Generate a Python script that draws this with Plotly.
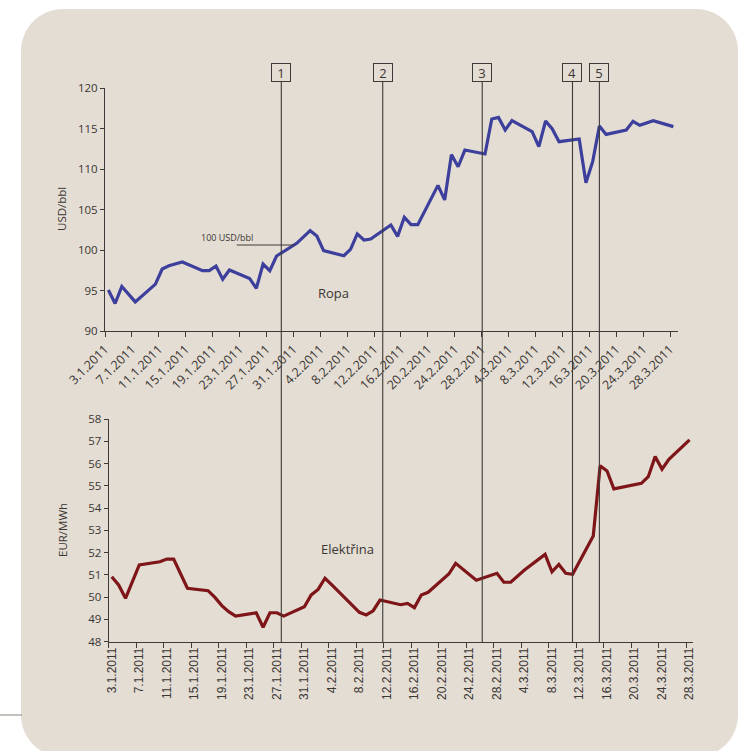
import pandas as pd
import plotly.graph_objects as go

# ---------------- DATA ----------------
oil_dates = ["2011-01-03", "2011-01-04", "2011-01-05", "2011-01-07", "2011-01-10", "2011-01-11",
             "2011-01-12", "2011-01-14", "2011-01-17", "2011-01-18", "2011-01-19", "2011-01-20",
             "2011-01-21", "2011-01-24", "2011-01-25", "2011-01-26", "2011-01-27", "2011-01-28",
             "2011-01-31", "2011-02-02", "2011-02-03", "2011-02-04", "2011-02-07", "2011-02-08",
             "2011-02-09", "2011-02-10", "2011-02-11", "2011-02-14", "2011-02-15", "2011-02-16",
             "2011-02-17", "2011-02-18", "2011-02-21", "2011-02-22", "2011-02-23", "2011-02-24",
             "2011-02-25", "2011-02-28", "2011-03-01", "2011-03-02", "2011-03-03", "2011-03-04",
             "2011-03-07", "2011-03-08", "2011-03-09", "2011-03-10", "2011-03-11", "2011-03-14",
             "2011-03-15", "2011-03-16", "2011-03-17", "2011-03-18", "2011-03-21", "2011-03-22",
             "2011-03-23", "2011-03-25", "2011-03-28"]
oil_usd = [95.07, 93.4, 95.5, 93.6, 95.8, 97.66,
           98.07, 98.53, 97.46, 97.46, 98.03, 96.39,
           97.54, 96.5, 95.27, 98.28, 97.46, 99.27,
           100.84, 102.4, 101.74, 99.93, 99.3, 100.1,
           102.0, 101.25, 101.37, 103.1, 101.7, 104.05,
           103.15, 103.15, 108.0, 106.2, 111.8, 110.3,
           112.37, 111.88, 116.2, 116.4, 114.85, 116.0,
           114.64, 112.8, 115.96, 114.97, 113.4, 113.73,
           108.33, 110.93, 115.34, 114.3, 114.85, 115.92,
           115.43, 116.0, 115.26]

power_dates = ["2011-01-03", "2011-01-04", "2011-01-05", "2011-01-07", "2011-01-10", "2011-01-11",
               "2011-01-12", "2011-01-14", "2011-01-17", "2011-01-18", "2011-01-19", "2011-01-20",
               "2011-01-21", "2011-01-24", "2011-01-25", "2011-01-26", "2011-01-27", "2011-01-28",
               "2011-01-31", "2011-02-01", "2011-02-02", "2011-02-03", "2011-02-04", "2011-02-08",
               "2011-02-09", "2011-02-10", "2011-02-11", "2011-02-14", "2011-02-15", "2011-02-16",
               "2011-02-17", "2011-02-18", "2011-02-21", "2011-02-22", "2011-02-25", "2011-02-28",
               "2011-03-01", "2011-03-02", "2011-03-04", "2011-03-07", "2011-03-08", "2011-03-09",
               "2011-03-10", "2011-03-11", "2011-03-14", "2011-03-15", "2011-03-16", "2011-03-17",
               "2011-03-21", "2011-03-22", "2011-03-23", "2011-03-24", "2011-03-25", "2011-03-28"]
power_eur = [50.92, 50.55, 49.95, 51.45, 51.59, 51.71,
             51.71, 50.4, 50.29, 49.99, 49.62, 49.35,
             49.15, 49.3, 48.65, 49.3, 49.3, 49.15,
             49.57, 50.1, 50.35, 50.85, 50.55, 49.32,
             49.2, 49.39, 49.87, 49.66, 49.72, 49.53,
             50.1, 50.22, 51.04, 51.52, 50.76, 51.07,
             50.67, 50.67, 51.22, 51.92, 51.14, 51.47,
             51.07, 51.03, 52.75, 55.9, 55.67, 54.86,
             55.11, 55.41, 56.31, 55.75, 56.19, 57.06]

tick_dates = ["2011-01-03", "2011-01-07", "2011-01-11", "2011-01-15", "2011-01-19", "2011-01-23",
              "2011-01-27", "2011-01-31", "2011-02-04", "2011-02-08", "2011-02-12", "2011-02-16",
              "2011-02-20", "2011-02-24", "2011-02-28", "2011-03-04", "2011-03-08", "2011-03-12",
              "2011-03-16", "2011-03-20", "2011-03-24", "2011-03-28"]
tick_labels = ["3.1.2011", "7.1.2011", "11.1.2011", "15.1.2011", "19.1.2011", "23.1.2011",
               "27.1.2011", "31.1.2011", "4.2.2011", "8.2.2011", "12.2.2011", "16.2.2011",
               "20.2.2011", "24.2.2011", "28.2.2011", "4.3.2011", "8.3.2011", "12.3.2011",
               "16.3.2011", "20.3.2011", "24.3.2011", "28.3.2011"]

event_labels = ["1", "2", "3", "4", "5"]
event_times = ["2011-01-28 17:00", "2011-02-12 19:00", "2011-02-27 14:00",
               "2011-03-13 00:00", "2011-03-17 00:00"]

ref_label = "100 USD/bbl"
ref_level = 100.63
ref_span = ["2011-01-22 02:00", "2011-01-30 18:00"]

# ---------------- LAYOUT ----------------
W, H = 738, 751


def px_x(p):
    return p / W


def px_y(p):
    return 1 - p / H


BG = "#e4ddd3"
AX = "#3d3a38"
TXT = "#3a3634"
FONT = "Open Sans"

half_day = pd.Timedelta(hours=12)
top_ticks = [pd.Timestamp(d) - half_day for d in tick_dates]

fig = go.Figure()

fig.add_trace(go.Scatter(x=pd.to_datetime(oil_dates), y=oil_usd, mode="lines",
                         line=dict(color="#3c3f9b", width=3.2), xaxis="x", yaxis="y",
                         showlegend=False, hoverinfo="skip"))
fig.add_trace(go.Scatter(x=pd.to_datetime(power_dates), y=power_eur, mode="lines",
                         line=dict(color="#7e1518", width=3.2), xaxis="x2", yaxis="y2",
                         showlegend=False, hoverinfo="skip"))

# rounded background panel
x0, y0, x1, y1, r = 21, 9, 738, 757, 42
k = 0.5523 * r


def P(a, b):
    return f"{px_x(a):.5f},{px_y(b):.5f}"


path = (f"M {P(x0 + r, y0)} L {P(x1 - r, y0)} "
        f"C {P(x1 - r + k, y0)} {P(x1, y0 + r - k)} {P(x1, y0 + r)} "
        f"L {P(x1, y1 - r)} "
        f"C {P(x1, y1 - r + k)} {P(x1 - r + k, y1)} {P(x1 - r, y1)} "
        f"L {P(x0 + r, y1)} "
        f"C {P(x0 + r - k, y1)} {P(x0, y1 - r + k)} {P(x0, y1 - r)} "
        f"L {P(x0, y0 + r)} "
        f"C {P(x0, y0 + r - k)} {P(x0 + r - k, y0)} {P(x0 + r, y0)} Z")

shapes = [
    dict(type="path", path=path, xref="paper", yref="paper", fillcolor=BG,
         line=dict(width=0), layer="below"),
    dict(type="line", xref="paper", yref="paper", x0=0, x1=px_x(22), y0=px_y(715), y1=px_y(715),
         line=dict(color="#8a837d", width=1), layer="below"),
    dict(type="line", xref="x", yref="y", x0=ref_span[0], x1=ref_span[1], y0=ref_level, y1=ref_level,
         line=dict(color=AX, width=1)),
]
annotations = []
for lab, t in zip(event_labels, event_times):
    shapes.append(dict(type="line", xref="x", yref="paper", x0=t, x1=t,
                       y0=px_y(642), y1=px_y(82), line=dict(color=AX, width=1.1)))
    annotations.append(dict(x=t, y=px_y(73), xref="x", yref="paper", text=lab, showarrow=False,
                            font=dict(family=FONT, size=13, color=TXT),
                            bordercolor=AX, borderwidth=1, borderpad=1, bgcolor=BG,
                            width=16, height=15, xanchor="center", yanchor="middle"))

annotations += [
    dict(x="2011-01-20 14:00", y=101.6, xref="x", yref="y", text=ref_label, showarrow=False,
         font=dict(family=FONT, size=9, color=TXT), xanchor="center", yanchor="middle"),
    dict(x="2011-02-05 10:00", y=94.7, xref="x", yref="y", text="Ropa", showarrow=False,
         font=dict(family=FONT, size=13, color=TXT), xanchor="center", yanchor="middle"),
    dict(x="2011-02-06 05:00", y=52.15, xref="x2", yref="y2", text="Elektřina", showarrow=False,
         font=dict(family=FONT, size=13, color=TXT), xanchor="center", yanchor="middle"),
    dict(x=px_x(62), y=px_y(209), xref="paper", yref="paper", text="USD/bbl", showarrow=False,
         textangle=-90, font=dict(family=FONT, size=11.5, color=TXT), xanchor="center", yanchor="middle"),
    dict(x=px_x(62), y=px_y(530), xref="paper", yref="paper", text="EUR/MWh", showarrow=False,
         textangle=-90, font=dict(family=FONT, size=11.5, color=TXT), xanchor="center", yanchor="middle"),
]

common_axis = dict(showgrid=False, zeroline=False, showline=True, linecolor=AX, linewidth=1,
                   ticks="outside", tickcolor=AX, tickwidth=1, automargin=False)

fig.update_layout(
    width=W, height=H, autosize=False,
    margin=dict(l=0, r=0, t=0, b=0, pad=0),
    paper_bgcolor="white", plot_bgcolor="rgba(0,0,0,0)",
    font=dict(family=FONT, color=TXT),
    showlegend=False,
    shapes=shapes, annotations=annotations,
    xaxis=dict(common_axis, domain=[px_x(105), px_x(678)], anchor="y", type="date",
               range=["2011-01-02 12:00", "2011-03-28 16:30"],
               tickmode="array", tickvals=top_ticks, ticktext=tick_labels,
               tickangle=-45, ticklen=5, tickfont=dict(family=FONT, size=12.5, color=TXT)),
    yaxis=dict(common_axis, domain=[px_y(331), px_y(88.3)], anchor="x", range=[90, 120],
               tick0=90, dtick=5, ticklen=4, tickfont=dict(family=FONT, size=11.5, color=TXT)),
    xaxis2=dict(common_axis, domain=[px_x(108.6), px_x(692.7)], anchor="y2", type="date",
                range=["2011-01-02 13:00", "2011-03-28 11:00"],
                tickmode="array", tickvals=pd.to_datetime(tick_dates), ticktext=tick_labels,
                tickangle=-90, ticks="", tickfont=dict(family="Liberation Sans", size=12, color=TXT),
                minor=dict(tickmode="linear", tick0="2011-01-02 13:00", dtick=4 * 86400000,
                           ticks="outside", ticklen=5, tickcolor=AX, tickwidth=1)),
    yaxis2=dict(common_axis, domain=[px_y(641.7), px_y(419)], anchor="x2", range=[48, 58],
                tick0=48, dtick=1, ticklen=4, tickfont=dict(family=FONT, size=11.5, color=TXT)),
)

fig.write_html("out.html", config={"displayModeBar": False},
               post_script="document.body.style.margin='0px';document.body.style.overflow='hidden';")
